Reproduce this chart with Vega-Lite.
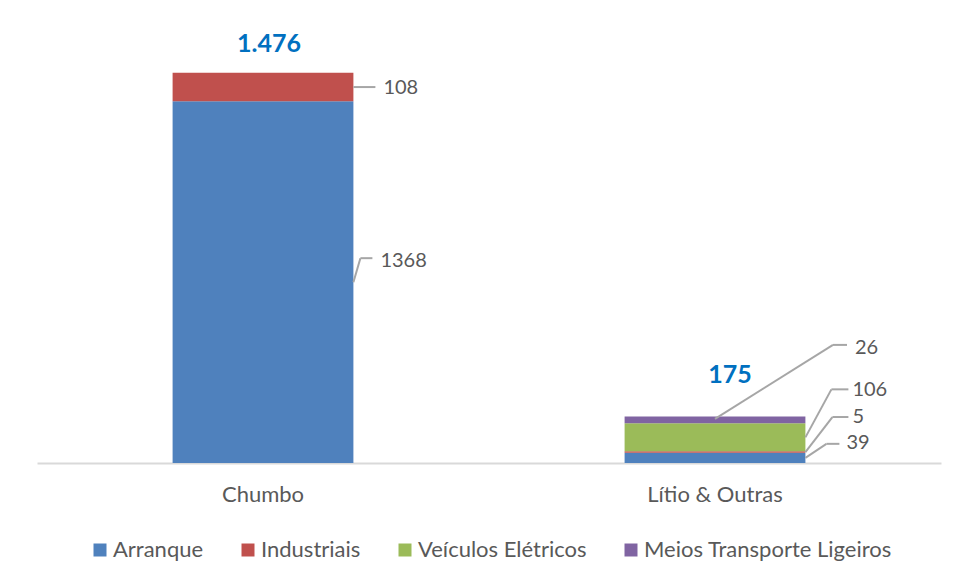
{
  "$schema": "https://vega.github.io/schema/vega-lite/v6.json",
  "autosize": "none",
  "width": 904,
  "height": 423,
  "padding": {"left": 37, "top": 40, "right": 17, "bottom": 121},
  "background": "white",
  "datasets": {
    "segs": [
      {"cat": "Chumbo", "series": "Arranque", "value": 1368, "ord": 1},
      {"cat": "Chumbo", "series": "Industriais", "value": 108, "ord": 2},
      {"cat": "Lítio & Outras", "series": "Arranque", "value": 39, "ord": 1},
      {"cat": "Lítio & Outras", "series": "Industriais", "value": 5, "ord": 2},
      {"cat": "Lítio & Outras", "series": "Veículos Elétricos", "value": 106, "ord": 3},
      {"cat": "Lítio & Outras", "series": "Meios Transporte Ligeiros", "value": 26, "ord": 4}
    ],
    "totals": [
      {"cat": "Chumbo", "total": 1476, "label": "1.476"},
      {"cat": "Lítio & Outras", "total": 175, "label": "175"}
    ]
  },
  "config": {
    "view": {"stroke": null},
    "font": "Lato",
    "axisX": {"labelAngle": 0, "ticks": false, "domainColor": "#D9D9D9", "domainWidth": 2, "labelFont": "Lato", "labelFontSize": 22, "labelColor": "#595959", "labelPadding": 21, "grid": false},
    "text": {"font": "Lato", "fontSize": 20, "color": "#595959", "align": "left", "baseline": "middle"},
    "rule": {"color": "#A6A6A6", "strokeWidth": 2}
  },
  "layer": [
    {
      "data": {"name": "segs"},
      "transform": [
        {"stack": "value", "groupby": ["cat"], "sort": [{"field": "ord", "order": "ascending"}], "as": ["v0", "v1"]}
      ],
      "mark": {"type": "bar"},
      "encoding": {
        "x": {
          "field": "cat", "type": "nominal", "sort": ["Chumbo", "Lítio & Outras"], "title": null,
          "scale": {"paddingInner": 0.6, "paddingOuter": 0.3}
        },
        "y": {"field": "v0", "type": "quantitative", "scale": {"domain": [0, 1600]}, "axis": null},
        "y2": {"field": "v1"},
        "color": {
          "field": "series", "type": "nominal",
          "scale": {
            "domain": ["Arranque", "Industriais", "Veículos Elétricos", "Meios Transporte Ligeiros"],
            "range": ["#4F81BD", "#C0504D", "#9BBB59", "#8064A2"]
          },
          "legend": {
            "title": null, "orient": "none", "legendX": 52, "legendY": 499, "direction": "horizontal", "columns": 4,
            "symbolType": "square", "symbolSize": 169, "symbolStrokeWidth": 0,
            "labelFont": "Lato", "labelFontSize": 22, "labelColor": "#595959", "labelLimit": 0,
            "labelOffset": 2, "columnPadding": 33
          }
        }
      }
    },
    {
      "data": {"name": "segs"},
      "transform": [
        {"stack": "value", "groupby": ["cat"], "sort": [{"field": "ord", "order": "ascending"}], "as": ["v0", "v1"]},
        {"calculate": "(datum.v0 + datum.v1) / 2", "as": "mid"},
        {"filter": "datum.cat == 'Chumbo' && datum.series == 'Industriais'"}
      ],
      "encoding": {
        "x": {"field": "cat", "type": "nominal", "bandPosition": 1, "title": null},
        "y": {"field": "mid", "type": "quantitative"}
      },
      "layer": [
        {"mark": {"type": "rule", "x2Offset": 22}, "encoding": {"x2": {"field": "cat", "bandPosition": 1}, "y2": {"field": "mid"}}},
        {"mark": {"type": "text", "dx": 30, "dy": 1}, "encoding": {"text": {"field": "value"}}}
      ]
    },
    {
      "data": {"name": "segs"},
      "transform": [
        {"stack": "value", "groupby": ["cat"], "sort": [{"field": "ord", "order": "ascending"}], "as": ["v0", "v1"]},
        {"calculate": "(datum.v0 + datum.v1) / 2", "as": "mid"},
        {"filter": "datum.cat == 'Chumbo' && datum.series == 'Arranque'"}
      ],
      "encoding": {
        "x": {"field": "cat", "type": "nominal", "bandPosition": 1, "title": null},
        "y": {"field": "mid", "type": "quantitative"}
      },
      "layer": [
        {"mark": {"type": "rule", "x2Offset": 7, "y2Offset": -24}, "encoding": {"x2": {"field": "cat", "bandPosition": 1}, "y2": {"field": "mid"}}},
        {"mark": {"type": "rule", "xOffset": 7, "yOffset": -24, "x2Offset": 19, "y2Offset": -24}, "encoding": {"x2": {"field": "cat", "bandPosition": 1}, "y2": {"field": "mid"}}},
        {"mark": {"type": "text", "dx": 27, "dy": -21}, "encoding": {"text": {"field": "value"}}}
      ]
    },
    {
      "data": {"name": "segs"},
      "transform": [
        {"stack": "value", "groupby": ["cat"], "sort": [{"field": "ord", "order": "ascending"}], "as": ["v0", "v1"]},
        {"calculate": "(datum.v0 + datum.v1) / 2", "as": "mid"},
        {"filter": "datum.cat == 'Lítio & Outras' && datum.series == 'Meios Transporte Ligeiros'"}
      ],
      "encoding": {
        "x": {"field": "cat", "type": "nominal", "bandPosition": 0.5, "title": null},
        "y": {"field": "mid", "type": "quantitative"}
      },
      "layer": [
        {"mark": {"type": "rule", "yOffset": -1, "x2Offset": 118, "y2Offset": -75}, "encoding": {"x2": {"field": "cat", "bandPosition": 0.5}, "y2": {"field": "mid"}}},
        {"mark": {"type": "rule", "xOffset": 118, "yOffset": -75, "x2Offset": 132, "y2Offset": -75}, "encoding": {"x2": {"field": "cat", "bandPosition": 0.5}, "y2": {"field": "mid"}}},
        {"mark": {"type": "text", "dx": 140, "dy": -72}, "encoding": {"text": {"field": "value"}}}
      ]
    },
    {
      "data": {"name": "segs"},
      "transform": [
        {"stack": "value", "groupby": ["cat"], "sort": [{"field": "ord", "order": "ascending"}], "as": ["v0", "v1"]},
        {"calculate": "(datum.v0 + datum.v1) / 2", "as": "mid"},
        {"filter": "datum.cat == 'Lítio & Outras' && datum.series == 'Veículos Elétricos'"}
      ],
      "encoding": {
        "x": {"field": "cat", "type": "nominal", "bandPosition": 1, "title": null},
        "y": {"field": "mid", "type": "quantitative"}
      },
      "layer": [
        {"mark": {"type": "rule", "x2Offset": 26, "y2Offset": -48}, "encoding": {"x2": {"field": "cat", "bandPosition": 1}, "y2": {"field": "mid"}}},
        {"mark": {"type": "rule", "xOffset": 26, "yOffset": -48, "x2Offset": 43, "y2Offset": -48}, "encoding": {"x2": {"field": "cat", "bandPosition": 1}, "y2": {"field": "mid"}}},
        {"mark": {"type": "text", "dx": 47, "dy": -47}, "encoding": {"text": {"field": "value"}}}
      ]
    },
    {
      "data": {"name": "segs"},
      "transform": [
        {"stack": "value", "groupby": ["cat"], "sort": [{"field": "ord", "order": "ascending"}], "as": ["v0", "v1"]},
        {"calculate": "(datum.v0 + datum.v1) / 2", "as": "mid"},
        {"filter": "datum.cat == 'Lítio & Outras' && datum.series == 'Industriais'"}
      ],
      "encoding": {
        "x": {"field": "cat", "type": "nominal", "bandPosition": 1, "title": null},
        "y": {"field": "mid", "type": "quantitative"}
      },
      "layer": [
        {"mark": {"type": "rule", "x2Offset": 27, "y2Offset": -35}, "encoding": {"x2": {"field": "cat", "bandPosition": 1}, "y2": {"field": "mid"}}},
        {"mark": {"type": "rule", "xOffset": 27, "yOffset": -35, "x2Offset": 43, "y2Offset": -35}, "encoding": {"x2": {"field": "cat", "bandPosition": 1}, "y2": {"field": "mid"}}},
        {"mark": {"type": "text", "dx": 47, "dy": -35}, "encoding": {"text": {"field": "value"}}}
      ]
    },
    {
      "data": {"name": "segs"},
      "transform": [
        {"stack": "value", "groupby": ["cat"], "sort": [{"field": "ord", "order": "ascending"}], "as": ["v0", "v1"]},
        {"calculate": "(datum.v0 + datum.v1) / 2", "as": "mid"},
        {"filter": "datum.cat == 'Lítio & Outras' && datum.series == 'Arranque'"}
      ],
      "encoding": {
        "x": {"field": "cat", "type": "nominal", "bandPosition": 1, "title": null},
        "y": {"field": "mid", "type": "quantitative"}
      },
      "layer": [
        {"mark": {"type": "rule", "x2Offset": 21, "y2Offset": -14}, "encoding": {"x2": {"field": "cat", "bandPosition": 1}, "y2": {"field": "mid"}}},
        {"mark": {"type": "rule", "xOffset": 21, "yOffset": -14, "x2Offset": 34, "y2Offset": -14}, "encoding": {"x2": {"field": "cat", "bandPosition": 1}, "y2": {"field": "mid"}}},
        {"mark": {"type": "text", "dx": 41, "dy": -15}, "encoding": {"text": {"field": "value"}}}
      ]
    },
    {
      "data": {"name": "totals"},
      "transform": [{"filter": "datum.cat == 'Chumbo'"}],
      "mark": {"type": "text", "align": "center", "dx": 6, "dy": -29, "fontSize": 25, "fontWeight": "bold", "color": "#0070C0"},
      "encoding": {
        "x": {"field": "cat", "type": "nominal", "title": null},
        "y": {"field": "total", "type": "quantitative"},
        "text": {"field": "label"}
      }
    },
    {
      "data": {"name": "totals"},
      "transform": [{"filter": "datum.cat == 'Lítio & Outras'"}],
      "mark": {"type": "text", "align": "center", "dx": 15, "dy": -42, "fontSize": 25, "fontWeight": "bold", "color": "#0070C0"},
      "encoding": {
        "x": {"field": "cat", "type": "nominal", "title": null},
        "y": {"field": "total", "type": "quantitative"},
        "text": {"field": "label"}
      }
    }
  ]
}
